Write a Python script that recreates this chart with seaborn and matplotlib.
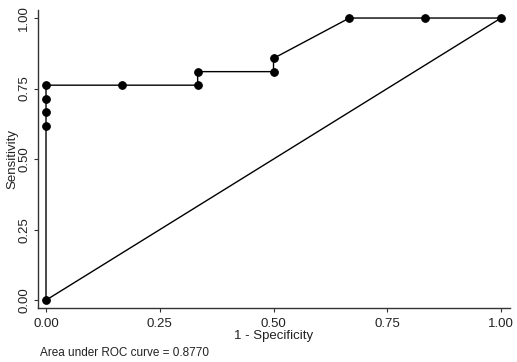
import seaborn as sns
import matplotlib.pyplot as plt
import pandas as pd

# ROC curve points (1 - specificity, sensitivity)
fpr = [0.0, 0.0, 0.0, 0.0, 0.0, 0.1667, 0.3333, 0.3333, 0.5, 0.5, 0.6667, 0.8333, 1.0]
tpr = [0.0, 0.619, 0.667, 0.714, 0.762, 0.762, 0.762, 0.810, 0.810, 0.857, 1.0, 1.0, 1.0]
ref_x = [0.0, 1.0]
ref_y = [0.0, 1.0]
ticks = [0.0, 0.25, 0.5, 0.75, 1.0]
tick_labels = ["0.00", "0.25", "0.50", "0.75", "1.00"]
auc_text = "Area under ROC curve = 0.8770"

sns.set_style("ticks")
plt.rcParams["font.family"] = ["Liberation Sans", "DejaVu Sans"]

df = pd.DataFrame({"fpr": fpr, "tpr": tpr})

fig = plt.figure(figsize=(5.17, 3.62), dpi=100)
ax = fig.add_axes([0.0735, 0.149, 0.913, 0.823])

sns.lineplot(data=df, x="fpr", y="tpr", sort=False, estimator=None, color="black",
             linewidth=1.0, marker="o", markersize=5.5, markeredgecolor="black", ax=ax)
sns.lineplot(x=ref_x, y=ref_y, color="black", linewidth=1.0, ax=ax)

ax.set_xlim(-0.0176, 1.0198)
ax.set_ylim(-0.028, 1.028)
ax.set_xticks(ticks)
ax.set_xticklabels(tick_labels)
ax.set_yticks(ticks)
ax.set_yticklabels(tick_labels, rotation=90, va="center")
ax.tick_params(axis="both", labelsize=9.5, length=3, width=0.8, color="#333333",
               labelcolor="#222222", pad=4)
ax.tick_params(axis="y", pad=2.5)
ax.set_xlabel("1 - Specificity", fontsize=9.5, labelpad=0, color="#222222")
ax.set_ylabel("Sensitivity", fontsize=9.5, labelpad=0, color="#222222")
for s in ["left", "bottom"]:
    ax.spines[s].set_linewidth(1.0)
    ax.spines[s].set_color("#333333")
sns.despine(ax=ax)

fig.text(40 / 517, 1 - 353 / 362, auc_text, fontsize=8.5, va="center", ha="left",
         color="#222222")

fig.savefig("out.png", dpi=100)
